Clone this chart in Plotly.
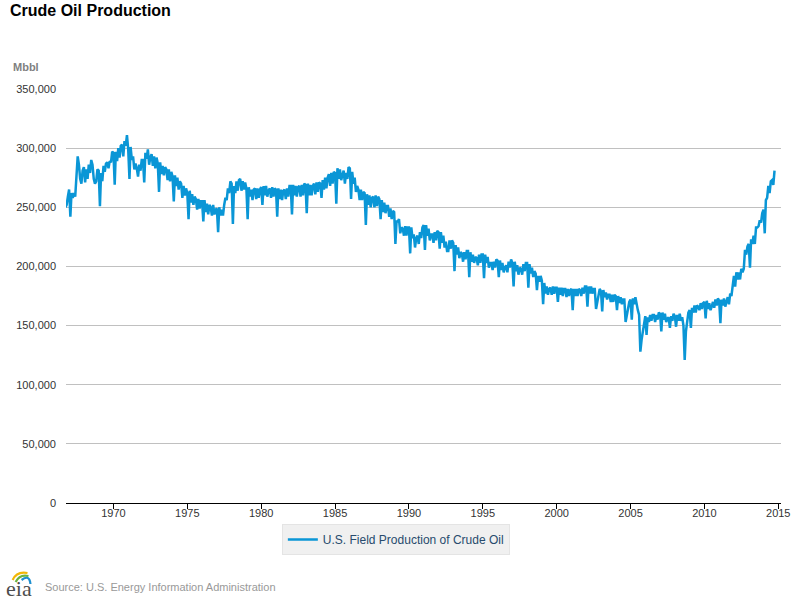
import pandas as pd
import plotly.graph_objects as go

# ---------------- data (Mbbl, in thousands) ----------------
START_MONTH = "1966-10-01"
UNIT = 1000
SERIES_NAME = "U.S. Field Production of Crude Oil"

prod_1960s = [
    250, 252, 259,
    265, 242, 262, 258, 262, 259, 277, 293, 286, 274, 270, 281,
    284, 271, 282, 274, 286, 279, 290, 286, 274, 270, 272, 282,
    281, 251, 279, 272, 285, 280, 287, 288, 283, 289, 288, 297,
]
prod_1970s = [
    296, 269, 297, 289, 300, 292, 302, 303, 293, 306, 302, 311,
    299, 274, 301, 290, 293, 282, 287, 283, 276, 286, 281, 290,
    290, 271, 296, 291, 299, 286, 292, 295, 285, 293, 283, 292,
    287, 263, 288, 278, 285, 277, 284, 282, 273, 282, 272, 280,
    276, 255, 277, 268, 275, 265, 272, 270, 258, 268, 260, 266,
    262, 240, 264, 254, 261, 252, 259, 257, 248, 257, 249, 255,
    255, 238, 256, 246, 253, 244, 252, 250, 243, 252, 244, 248,
    249, 229, 250, 243, 248, 243, 252, 258, 256, 266, 262, 272,
    270, 236, 268, 262, 272, 264, 273, 274, 264, 272, 265, 271,
    266, 240, 267, 259, 265, 256, 265, 266, 257, 266, 258, 265,
]
prod_1980s = [
    267, 252, 268, 260, 268, 259, 264, 266, 258, 267, 259, 266,
    265, 242, 266, 257, 265, 256, 264, 265, 257, 266, 259, 268,
    268, 244, 269, 260, 268, 259, 267, 268, 259, 269, 260, 270,
    269, 245, 270, 260, 269, 260, 268, 270, 261, 271, 263, 271,
    270, 258, 273, 265, 275, 266, 275, 278, 268, 279, 270, 280,
    279, 253, 283, 274, 282, 273, 277, 281, 270, 279, 274, 284,
    283, 257, 280, 270, 275, 263, 268, 265, 256, 265, 256, 263,
    262, 235, 261, 252, 260, 250, 258, 259, 250, 260, 251, 259,
    257, 240, 256, 246, 254, 245, 251, 251, 242, 249, 240, 247,
    246, 219, 238, 238, 240, 228, 233, 232, 226, 234, 226, 233,
]
prod_1990s = [
    233, 211, 233, 224, 227, 216, 224, 226, 219, 229, 224, 233,
    235, 214, 235, 226, 232, 222, 227, 227, 220, 229, 222, 230,
    229, 215, 229, 220, 226, 216, 221, 213, 213, 222, 215, 222,
    220, 196, 218, 210, 216, 207, 212, 211, 204, 212, 206, 213,
    213, 191, 212, 204, 210, 203, 208, 207, 201, 210, 203, 210,
    210, 190, 210, 203, 208, 199, 203, 203, 197, 204, 199, 206,
    205, 191, 205, 197, 203, 195, 199, 201, 195, 204, 199, 206,
    203, 183, 204, 196, 201, 193, 199, 198, 193, 202, 196, 203,
    203, 182, 202, 194, 199, 191, 196, 194, 180, 192, 187, 192,
    188, 168, 186, 177, 183, 176, 181, 182, 176, 183, 177, 182,
]
prod_2000s = [
    182, 170, 182, 176, 182, 175, 181, 181, 174, 181, 175, 180,
    181, 163, 181, 175, 181, 175, 181, 180, 175, 182, 177, 183,
    183, 166, 183, 177, 183, 177, 181, 181, 164, 170, 176, 181,
    179, 162, 180, 174, 178, 172, 176, 176, 170, 176, 170, 176,
    175, 163, 175, 169, 174, 168, 172, 172, 153, 160, 163, 170,
    172, 155, 173, 168, 174, 166, 163, 159, 128, 138, 144, 152,
    158, 142, 157, 153, 159, 154, 159, 159, 153, 159, 155, 161,
    160, 145, 161, 155, 160, 153, 156, 157, 148, 158, 154, 160,
    158, 149, 159, 154, 160, 154, 157, 150, 121, 145, 153, 161,
    163, 148, 165, 161, 167, 161, 167, 166, 163, 169, 164, 169,
]
prod_2010s = [
    170, 156, 171, 164, 169, 163, 166, 170, 165, 172, 167, 173,
    171, 152, 172, 167, 173, 166, 170, 174, 168, 177, 175, 183,
    192, 183, 195, 189, 195, 189, 198, 195, 198, 214, 210, 217,
    219, 199, 223, 219, 226, 219, 233, 233, 234, 239, 237, 245,
    248, 228, 256, 258, 268, 262, 272, 273, 269, 281,
]

Y_TICKS = [0, 50000, 100000, 150000, 200000, 250000, 300000, 350000]
X_RANGE = ["1966-10-16", "2015-03-10"]

values = [v * UNIT for v in prod_1960s + prod_1970s + prod_1980s
          + prod_1990s + prod_2000s + prod_2010s]
dates = pd.date_range(START_MONTH, periods=len(values), freq="MS")

# ---------------- figure ----------------
W, H = 800, 600
PLOT_L, PLOT_R, PLOT_T, PLOT_B = 66, 790, 89, 503   # page pixels
ML, MT, MR, MB = PLOT_L, PLOT_T, W - PLOT_R, H - PLOT_B
PW, PH = PLOT_R - PLOT_L, PLOT_B - PLOT_T


def px(x):
    return (x - PLOT_L) / PW


def py(y):
    return (PLOT_B - y) / PH


fig = go.Figure()
fig.add_trace(go.Scatter(
    x=dates, y=values, mode="lines", name=SERIES_NAME,
    line=dict(color="#0a96d6", width=2.5),
))

fig.update_layout(
    width=W, height=H,
    margin=dict(l=ML, r=MR, t=MT, b=MB, pad=0),
    paper_bgcolor="white", plot_bgcolor="white",
    font=dict(family="Liberation Sans, Arial, sans-serif", size=11, color="#333333"),
    title=dict(text="<b>Crude Oil Production</b>", xref="container", yref="container",
               x=10 / W, xanchor="left", y=1 - 10 / H, yanchor="middle",
               font=dict(size=16, color="#000000")),
    showlegend=True,
    legend=dict(orientation="h", x=px(400), xanchor="center", y=py(524), yanchor="top",
                bgcolor="#f0f0f0", bordercolor="#e4e4e4", borderwidth=1,
                font=dict(size=12, color="#274b6d")),
    xaxis=dict(type="date", range=X_RANGE, showgrid=False, zeroline=False,
               showline=True, linecolor="#000000", linewidth=1,
               ticks="outside", ticklen=5, tickcolor="#000000", tickwidth=1,
               tick0="1970-01-01", dtick="M60", tickformat="%Y",
               ticklabelstandoff=-5,
               tickfont=dict(size=11, color="#333333")),
    yaxis=dict(range=[0, 350000], tickvals=Y_TICKS, tickformat=",",
               showgrid=True, gridcolor="#c0c0c0", gridwidth=1,
               zeroline=False, showline=False, ticks="", ticklabelstandoff=9,
               tickfont=dict(size=11, color="#333333")),
)

annotations = [
    dict(text="<b>Mbbl</b>", x=px(10), y=py(67), xanchor="left", yanchor="middle",
         font=dict(size=11, color="#808080")),
    dict(text="Source: U.S. Energy Information Administration", x=px(43), y=py(587),
         xanchor="left", yanchor="middle", font=dict(size=11, color="#999999")),
    dict(text="eia", x=px(3), y=py(588), xanchor="left", yanchor="middle",
         font=dict(family="Liberation Serif, DejaVu Serif, serif", size=22, color="#4d4d4d")),
]
for a in annotations:
    a.update(xref="paper", yref="paper", showarrow=False)
fig.update_layout(annotations=annotations)


def arc(p0, c, p1, color, width):
    path = "M %f,%f Q %f,%f %f,%f" % (px(p0[0]), py(p0[1]), px(c[0]), py(c[1]),
                                       px(p1[0]), py(p1[1]))
    return dict(type="path", xref="paper", yref="paper", path=path,
                line=dict(color=color, width=width))


fig.update_layout(shapes=[
    arc((12, 580), (16, 571), (27, 573), "#f2b705", 2.2),
    arc((15, 582), (19, 574), (28, 576), "#6cb33f", 2.2),
    arc((21, 580), (29, 574), (30, 584), "#1e90d0", 2.2),
])

# place the 800x600 figure flush with the page corner (no default body margin)
fig.write_html(
    "out.html",
    config={"displayModeBar": False},
    post_script="document.body.style.margin='0';document.body.style.overflow='hidden';",
)
